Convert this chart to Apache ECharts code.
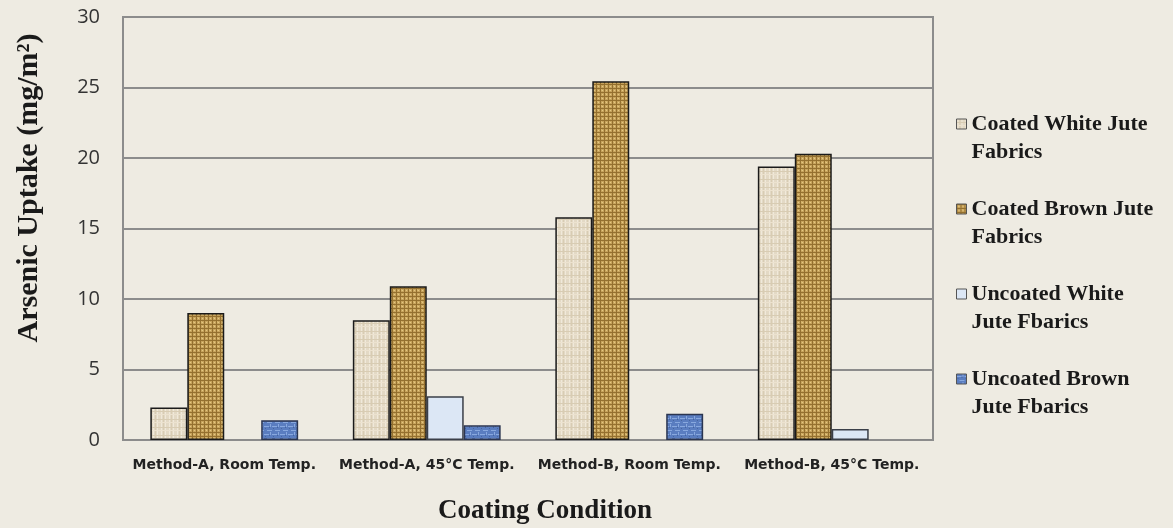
<!DOCTYPE html>
<html>
<head>
<meta charset="utf-8">
<script src="https://cdn.jsdelivr.net/npm/echarts@6/dist/echarts.min.js"></script>
<style>
html,body{margin:0;padding:0;background:#EEEBE2;}
#c{width:1173px;height:528px;}
</style>
</head>
<body>
<div id="c"></div>
<script>
const categories = ['Method-A, Room Temp.', 'Method-A, 45°C Temp.', 'Method-B, Room Temp.', 'Method-B, 45°C Temp.'];
const seriesNames = ['Coated White Jute Fabrics', 'Coated Brown Jute Fabrics', 'Uncoated White Jute Fbarics', 'Uncoated Brown Jute Fbarics'];
const legendLines = [['Coated White Jute', 'Fabrics'], ['Coated Brown Jute', 'Fabrics'], ['Uncoated White', 'Jute Fbarics'], ['Uncoated Brown', 'Jute Fbarics']];
const coatedWhite = [2.3, 8.5, 15.8, 19.4];
const coatedBrown = [9.0, 10.9, 25.45, 20.3];
const uncoatedWhite = [0, 3.1, 0, 0.78];
const uncoatedBrown = [1.4, 1.05, 1.87, 0];
const yTicks = [0, 5, 10, 15, 20, 25, 30];
const yTitle = 'Arsenic Uptake (mg/m²)';
const xTitle = 'Coating Condition';

function pattern(size, fn) {
  const c = document.createElement('canvas');
  c.width = size; c.height = size;
  const g = c.getContext('2d');
  fn(g, size);
  return { image: c, repeat: 'repeat' };
}
const whitePat = pattern(8, (g, s) => {
  g.fillStyle = '#E3D9C5'; g.fillRect(0, 0, s, s);
  g.fillStyle = '#F0E9DA'; g.fillRect(1, 0, 1, s); g.fillRect(5, 0, 1, s);
  g.fillStyle = '#D8CCB3'; g.fillRect(0, 3, s, 1); g.fillRect(3, 0, 1, s);
  g.fillStyle = '#ECE2CF'; g.fillRect(0, 6, s, 1);
});
const brownPat = pattern(8, (g, s) => {
  g.fillStyle = '#C7A35C'; g.fillRect(0, 0, s, s);
  g.fillStyle = '#94702F'; g.fillRect(0, 0, s, 1); g.fillRect(0, 4, s, 1); g.fillRect(0, 0, 1, s); g.fillRect(4, 0, 1, s);
  g.fillStyle = '#E4C882'; g.fillRect(2, 2, 1, 1); g.fillRect(6, 6, 1, 1); g.fillRect(2, 6, 1, 1); g.fillRect(6, 2, 1, 1);
  g.fillStyle = '#D6B46B'; g.fillRect(1, 1, 1, 2); g.fillRect(5, 5, 2, 1);
});
const blueWhitePat = '#DCE7F5';
const bluePat = pattern(8, (g, s) => {
  g.fillStyle = '#5A7DC0'; g.fillRect(0, 0, s, s);
  g.fillStyle = '#88A8DE'; g.fillRect(0, 2, 5, 1); g.fillRect(3, 6, 5, 1); g.fillRect(6, 0, 1, 3);
  g.fillStyle = '#46659F'; g.fillRect(1, 4, 1, 1); g.fillRect(5, 3, 1, 1);
});

const fills = [whitePat, brownPat, blueWhitePat, bluePat];
const borders = ['#1a1a1a', '#1a1a1a', '#3a3f48', '#2b3550'];
const values = [coatedWhite, coatedBrown, uncoatedWhite, uncoatedBrown];

const chart = echarts.init(document.getElementById('c'), null, { renderer: 'canvas' });
chart.setOption({
  backgroundColor: '#EEEBE2',
  animation: false,
  grid: { left: 123, right: 240, top: 17, bottom: 88, show: true, borderColor: '#8C8C8C', borderWidth: 2 },
  legend: {
    orient: 'vertical', left: 951, top: 77, itemGap: 1,
    itemWidth: 10, itemHeight: 10, icon: 'rect',
    data: seriesNames,
    formatter: n => ' \n' + legendLines[seriesNames.indexOf(n)].join('\n'),
    textStyle: { fontFamily: 'Liberation Serif', fontWeight: 'bold', fontSize: 22, color: '#1a1a1a', lineHeight: 28 },
    itemStyle: { borderColor: '#555', borderWidth: 1 }
  },
  graphic: [
    { type: 'text', x: 29, y: 188, rotation: Math.PI / 2,
      style: { text: yTitle, align: 'center', verticalAlign: 'middle', font: 'bold 30px "Liberation Serif"', fill: '#1a1a1a' } },
    { type: 'text', x: 545, y: 511,
      style: { text: xTitle, align: 'center', verticalAlign: 'middle', font: 'bold 27px "Liberation Serif"', fill: '#1a1a1a' } }
  ],
  xAxis: {
    type: 'category', data: categories,
    axisLine: { lineStyle: { color: '#8C8C8C', width: 2 } },
    axisTick: { show: false },
    axisLabel: { fontFamily: 'DejaVu Sans', fontWeight: 'bold', fontSize: 14, color: '#222', margin: 18, interval: 0 }
  },
  yAxis: {
    type: 'value', min: yTicks[0], max: yTicks[yTicks.length - 1], interval: 5,
    axisLine: { show: true, lineStyle: { color: '#8C8C8C', width: 2 } },
    axisTick: { show: false },
    splitLine: { lineStyle: { color: '#8C8C8C', width: 2 } },
    axisLabel: { fontFamily: 'Open Sans', fontSize: 20, color: '#333', margin: 23 }
  },
  series: seriesNames.map((n, i) => ({
    name: n, type: 'bar', data: values[i].map(v => v === 0 ? null : v),
    barGap: 0, barCategoryGap: '27%',
    itemStyle: { color: fills[i], borderColor: borders[i], borderWidth: 1.5 }
  }))
});
</script>
</body>
</html>
